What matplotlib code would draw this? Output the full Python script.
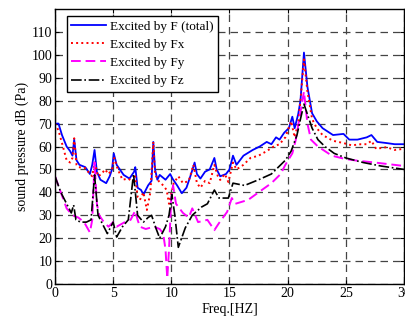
import matplotlib
matplotlib.use("Agg")
import matplotlib.pyplot as plt

total = [(0,70),(0.3,70),(0.6,65),(1.0,60),(1.3,58),(1.5,56),(1.65,63),(1.85,54),(2.1,52),(2.6,51),(3.0,48),(3.2,52),(3.4,58.5),(3.6,49),(3.9,45.5),(4.4,44),(4.7,47),(4.9,50),(5.05,57),(5.3,52),(5.9,47.6),(6.4,46),(6.8,49),(6.9,51),(7.1,42),(7.4,41),(7.6,39),(8.0,43),(8.3,45),(8.45,62),(8.6,50),(8.8,45.5),(9.0,47.6),(9.5,45.5),(9.9,48),(10.1,46),(10.5,43),(10.9,39.6),(11.3,42),(11.7,48),(12.0,53),(12.2,48),(12.5,46),(12.9,49),(13.3,50),(13.7,55),(13.9,50),(14.2,47),(14.7,48),(15.0,50),(15.3,56),(15.6,52),(16.2,56),(17.0,58.5),(17.6,60),(18.2,62),(18.6,61),(19.0,64),(19.3,63),(19.7,66),(20.1,68),(20.4,73),(20.6,68),(20.9,74),(21.1,80),(21.4,101),(21.7,86),(22.1,74.5),(22.5,71),(23.0,68),(23.9,65),(24.8,65.5),(25.3,63),(26.0,63),(26.8,64),(27.2,65),(27.7,62),(28.5,61.5),(29.2,61),(30,61)]

fx = [(0,70),(0.3,67),(0.6,61.5),(1.0,54),(1.3,53),(1.5,55),(1.65,63.6),(1.85,52),(2.0,51),(2.6,50.6),(3.0,48),(3.2,47),(3.4,53),(3.7,47),(4.0,48),(4.3,50),(4.6,48),(4.9,50),(5.1,55),(5.4,50),(5.8,45.5),(6.3,46),(6.7,44.5),(6.9,47),(7.1,38),(7.3,36.7),(7.6,40),(7.9,32.3),(8.2,40),(8.45,62),(8.6,48),(8.9,45),(9.3,43),(9.6,41),(9.8,35),(10.2,44),(10.6,47),(11.0,44),(11.5,45),(11.9,52),(12.2,44),(12.5,42),(12.9,45),(13.3,44),(13.7,52),(14.0,47),(14.2,45.4),(14.6,48),(14.9,44.5),(15.3,53),(15.6,50),(16.2,52),(16.8,55),(17.5,56),(18.2,58),(18.8,60),(19.3,61),(19.8,64),(20.3,71),(20.6,64),(20.9,70),(21.1,80),(21.4,98),(21.7,84),(22.1,72),(22.5,68),(23.0,65),(23.9,62.5),(24.8,61.5),(25.5,60.5),(26.3,61),(26.8,61),(27.2,62.5),(27.6,59),(28.5,59.7),(29.2,58.5),(30,59)]

fy = [(0,47),(0.5,40),(1.0,33),(1.5,30),(2.0,29),(2.5,27),(3.0,22.5),(3.2,28),(3.4,53),(3.6,35),(3.8,30),(4.2,27),(4.6,25),(5.0,27),(5.3,25),(6.0,27),(6.5,28),(6.9,32),(7.1,28),(7.3,25),(7.8,24),(8.5,25),(9.0,24),(9.3,22),(9.5,15),(9.65,2.5),(9.8,15),(10.0,38),(10.15,43),(10.4,35),(11.0,31),(11.5,29),(11.8,33),(12.3,27),(13.1,28),(13.7,23.5),(14.1,26.6),(14.8,31.5),(15.2,37.5),(15.5,35),(16.6,36.7),(17.5,40),(18.6,44),(19.0,46),(19.4,48),(19.8,52),(20.4,57),(20.7,63),(21.0,72),(21.4,84),(21.7,70),(22.0,63),(22.6,60),(23.8,56),(24.9,54.6),(26.0,53.8),(27.5,53),(30,51.5)]

fz = [(0,47),(0.5,40),(1.0,35),(1.4,31),(1.6,34.5),(1.8,28),(2.2,27),(2.7,27),(3.1,28),(3.4,47.6),(3.7,30),(4.2,25),(4.5,22),(5.0,27),(5.3,20.5),(5.8,25),(6.3,28),(6.75,48),(7.1,30),(7.6,27),(8.0,29),(8.3,30),(8.7,24),(9.0,20),(9.5,25),(9.8,30),(10.05,39),(10.3,30),(10.6,16),(11.2,24.5),(11.8,30),(12.6,33.6),(13.1,35),(13.7,41),(14.1,37.5),(14.9,37.5),(15.3,44),(16.3,43),(17.5,45.5),(18.6,48),(19.2,51),(19.8,54),(20.3,58),(20.8,65),(21.1,72),(21.4,78.5),(21.7,74),(22.1,68),(22.6,63),(23.2,60),(24.0,57),(25.0,55),(26.5,53),(28.0,51.5),(30,50)]

labels = ["Excited by F (total)", "Excited by Fx", "Excited by Fy", "Excited by Fz"]
xticks = [0, 5, 10, 15, 20, 25, 30]
yticks = [0, 10, 20, 30, 40, 50, 60, 70, 80, 90, 100, 110]

plt.rcParams['font.family'] = ['Liberation Serif', 'DejaVu Serif']
fig = plt.figure(figsize=(4.06, 3.2), dpi=100)
ax = fig.add_axes([55/406, 36/320, 349/406, 275/320])

styles = [dict(color='#0000ff', ls='-', lw=1.3),
          dict(color='#ff0000', ls=':', lw=1.4),
          dict(color='#ff00ff', ls=(0, (5, 2.5)), lw=1.4),
          dict(color='#000000', ls='-.', lw=1.2)]
for data, lab, st in zip([total, fx, fy, fz], labels, styles):
    xs, ys = zip(*data)
    ax.plot(xs, ys, label=lab, **st)

ax.set_xlim(0, 30)
ax.set_ylim(0, 120)
ax.set_xticks(xticks)
ax.set_yticks(yticks)
ax.grid(True, color='#444444', ls=(0, (6, 4)), lw=0.9)
ax.tick_params(direction='in', top=True, right=True, labelsize=10, length=3, pad=2)
for s in ax.spines.values():
    s.set_linewidth(1.0)
ax.set_xlabel("Freq.[HZ]", fontsize=10, labelpad=2)
ax.set_ylabel("sound pressure dB (Pa)", fontsize=10, labelpad=2)
leg = ax.legend(loc='upper left', bbox_to_anchor=(0.034, 0.975), fontsize=9.5, frameon=True,
                fancybox=False, edgecolor='black', framealpha=1, borderpad=0.35,
                labelspacing=0.45, handlelength=2.65, handletextpad=0.25, borderaxespad=0)
leg.get_frame().set_linewidth(1.0)
fig.savefig("out.png", dpi=100)
